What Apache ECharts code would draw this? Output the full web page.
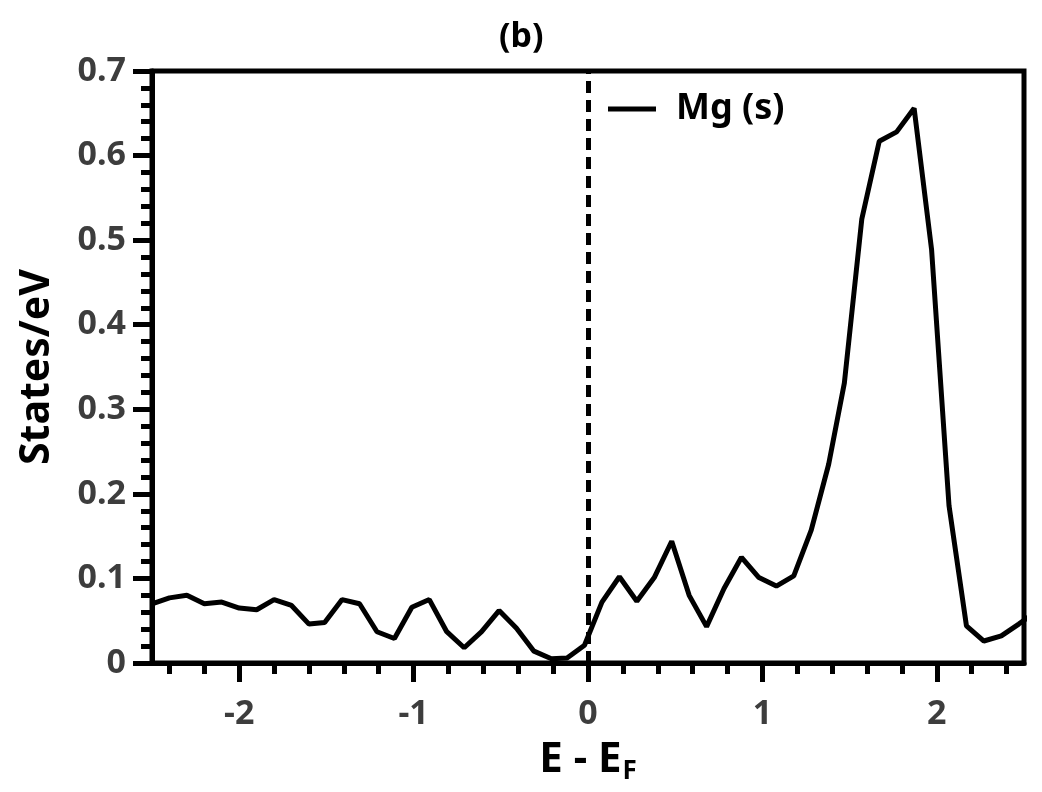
<!DOCTYPE html>
<html>
<head>
<meta charset="utf-8">
<title>Mg (s) DOS</title>
<script src="https://cdn.jsdelivr.net/npm/echarts@6/dist/echarts.min.js"></script>
<style>
  html, body { margin: 0; padding: 0; background: #fff; }
  #chart { width: 1042px; height: 792px; }
</style>
</head>
<body>
<div id="chart"></div>
<script>
// energies (E - E_F, eV) and Mg s-projected DOS
var energy = [
  -2.50, -2.40, -2.30, -2.20, -2.10, -2.00, -1.90, -1.80, -1.70, -1.60,
  -1.51, -1.41, -1.31, -1.21, -1.11, -1.01, -0.91, -0.81, -0.71, -0.61,
  -0.51, -0.41, -0.31, -0.21, -0.12, -0.02, 0.08, 0.18, 0.28, 0.38,
  0.48, 0.58, 0.68, 0.78, 0.88, 0.98, 1.08, 1.18, 1.28, 1.38,
  1.47, 1.57, 1.67, 1.77, 1.87, 1.97, 2.07, 2.17, 2.27, 2.37,
  2.47, 2.57
];
var mgS = [
  0.070, 0.077, 0.080, 0.070, 0.072, 0.065, 0.063, 0.075, 0.068, 0.046,
  0.048, 0.075, 0.070, 0.037, 0.029, 0.066, 0.075, 0.037, 0.018, 0.037,
  0.062, 0.041, 0.014, 0.005, 0.006, 0.021, 0.072, 0.102, 0.073, 0.101,
  0.144, 0.080, 0.043, 0.088, 0.125, 0.101, 0.091, 0.103, 0.157, 0.235,
  0.331, 0.525, 0.617, 0.628, 0.656, 0.489, 0.186, 0.044, 0.026, 0.032,
  0.046, 0.061
];
var xTicks = [-2, -1, 0, 1, 2];
var fermi = 0;

var FONT = "'Noto Sans', 'Open Sans', 'DejaVu Sans', sans-serif";

var chart = echarts.init(document.getElementById('chart'));

var points = energy.map(function (e, i) { return [e, mgS[i]]; });

var option = {
  animation: false,
  backgroundColor: '#fff',
  title: {
    text: '(b)',
    left: 494,
    top: 15,
    textStyle: { fontFamily: FONT, fontSize: 34, fontWeight: 'bold', color: '#000' }
  },
  legend: {
    left: 603,
    top: 86,
    icon: 'rect',
    itemWidth: 48,
    itemHeight: 5,
    textStyle: {
      fontFamily: FONT, fontSize: 36, fontWeight: 'bold', color: '#000',
      padding: [0, 0, 0, 15]
    },
    data: ['Mg (s)']
  },
  grid: {
    left: 152,
    right: 18,
    top: 71,
    bottom: 129,
    show: true,
    borderColor: '#000',
    borderWidth: 5
  },
  xAxis: {
    type: 'value',
    min: -2.5,
    max: 2.5,
    name: '{m|E - E}{s|F}',
    nameLocation: 'middle',
    nameGap: 72,
    nameTextStyle: {
      rich: {
        m: { fontFamily: FONT, fontSize: 42, fontWeight: 'bold', color: '#000', lineHeight: 50 },
        s: { fontFamily: FONT, fontSize: 26, fontWeight: 'bold', color: '#000', lineHeight: 50,
             verticalAlign: 'bottom', padding: [0, 0, 0, 1] }
      }
    },
    axisLine: { show: true, onZero: false, lineStyle: { color: '#000', width: 5 } },
    axisTick: { show: true, inside: false, length: 19, lineStyle: { color: '#000', width: 5 },
                customValues: xTicks },
    minorTick: { show: true, splitNumber: 5, length: 11, lineStyle: { color: '#000', width: 5 } },
    axisLabel: {
      customValues: xTicks,
      margin: 34,
      fontFamily: FONT, fontSize: 34, fontWeight: 'bold', color: '#3d3d3d'
    },
    splitLine: { show: false }
  },
  yAxis: {
    type: 'value',
    min: 0,
    max: 0.7,
    interval: 0.1,
    name: 'States/eV',
    nameLocation: 'middle',
    nameGap: 94,
    nameTextStyle: { fontFamily: FONT, fontSize: 41, fontWeight: 'bold', color: '#000' },
    axisLine: { show: true, onZero: false, lineStyle: { color: '#000', width: 5 } },
    axisTick: { show: true, inside: false, length: 19, lineStyle: { color: '#000', width: 5 } },
    minorTick: { show: true, splitNumber: 5, length: 11, lineStyle: { color: '#000', width: 5 } },
    axisLabel: {
      margin: 26,
      fontFamily: FONT, fontSize: 34, fontWeight: 'bold', color: '#3d3d3d'
    },
    splitLine: { show: false }
  },
  series: [
    {
      name: 'Mg (s)',
      type: 'line',
      data: points,
      showSymbol: false,
      clip: true,
      color: '#000',
      lineStyle: { color: '#000', width: 5 },
      markLine: {
        silent: true,
        symbol: 'none',
        label: { show: false },
        lineStyle: { color: '#000', width: 5, type: [12, 7] },
        data: [{ xAxis: fermi }]
      }
    }
  ]
};

chart.setOption(option);
</script>
</body>
</html>
